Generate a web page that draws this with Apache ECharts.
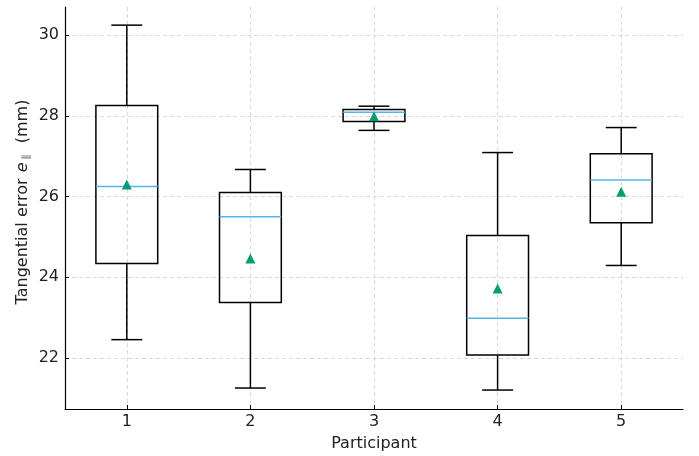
<!DOCTYPE html>
<html><head><meta charset="utf-8">
<script src="https://cdn.jsdelivr.net/npm/echarts@6/dist/echarts.min.js"></script>
<style>html,body{margin:0;padding:0;background:#fff}#c{width:699px;height:456px}</style>
</head><body><div id="c"></div>
<script>
const participants = [1, 2, 3, 4, 5];
const whiskerLow = [22.45, 21.25, 27.64, 21.20, 24.29];
const q1 = [24.34, 23.37, 27.86, 22.07, 25.35];
const median = [26.25, 25.50, 28.09, 22.98, 26.41];
const q3 = [28.26, 26.10, 28.16, 25.03, 27.06];
const whiskerHigh = [30.25, 26.67, 28.24, 27.09, 27.71];
const means = [26.30, 24.46, 27.99, 23.72, 26.12];
const yTicks = [22, 24, 26, 28, 30];

const boxData = participants.map((p, i) => [p, whiskerLow[i], q1[i], median[i], q3[i], whiskerHigh[i]]);
const meanData = participants.map((p, i) => [p, means[i]]);

const chart = echarts.init(document.getElementById('c'), null, {renderer: 'canvas'});
const font = '"DejaVu Sans", sans-serif';
function renderBox(params, api) {
  const x = api.value(0);
  const pLow = api.coord([x, api.value(1)]);
  const pQ1 = api.coord([x, api.value(2)]);
  const pMed = api.coord([x, api.value(3)]);
  const pQ3 = api.coord([x, api.value(4)]);
  const pHigh = api.coord([x, api.value(5)]);
  const w = api.size([0.5, 0])[0];
  const cw = w / 2;
  const cx = pMed[0];
  const ls = {stroke: '#000', lineWidth: 1.5, fill: null};
  return {
    type: 'group',
    children: [
      {type: 'line', shape: {x1: cx, y1: pQ1[1], x2: cx, y2: pLow[1]}, style: ls},
      {type: 'line', shape: {x1: cx, y1: pQ3[1], x2: cx, y2: pHigh[1]}, style: ls},
      {type: 'line', shape: {x1: cx - cw/2, y1: pLow[1], x2: cx + cw/2, y2: pLow[1]}, style: ls},
      {type: 'line', shape: {x1: cx - cw/2, y1: pHigh[1], x2: cx + cw/2, y2: pHigh[1]}, style: ls},
      {type: 'rect', shape: {x: cx - w/2, y: pQ3[1], width: w, height: pQ1[1] - pQ3[1]}, style: {stroke: '#000', lineWidth: 1.5, fill: 'rgba(0,0,0,0)'}},
      {type: 'line', shape: {x1: cx - w/2, y1: pMed[1], x2: cx + w/2, y2: pMed[1]}, style: {stroke: '#56B4E9', lineWidth: 1.5}}
    ]
  };
}
chart.setOption({
  animation: false,
  backgroundColor: '#fff',
  grid: {left: 65, right: 16, top: 7, bottom: 47, containLabel: false, outerBoundsMode: 'none'},
  xAxis: {
    type: 'value', min: 0.5, max: 5.5,
    name: 'Participant', nameLocation: 'middle', nameGap: 27, nameMoveOverlap: false,
    nameTextStyle: {fontFamily: font, fontSize: 16, color: '#222'},
    axisLine: {show: true, lineStyle: {color: '#000', width: 1.2}},
    axisTick: {show: true, inside: true, customValues: participants, length: 4, lineStyle: {color: '#000'}},
    axisLabel: {customValues: participants, fontFamily: font, fontSize: 16, color: '#222', margin: 5},
    splitLine: {show: true, lineStyle: {color: '#cfcfcf', type: [4, 3], width: 0.8}}
  },
  yAxis: {
    type: 'value', min: 20.73, max: 30.7,
    name: '{a|Tangential error }{e|e}{s|∥}{a|  (mm)}', nameLocation: 'middle', nameGap: 34, nameMoveOverlap: false,
    nameTextStyle: {
      fontFamily: font, fontSize: 16, color: '#222', padding: [0, 0, 0, 12],
      rich: {
        a: {fontFamily: font, fontSize: 16, color: '#222'},
        e: {fontFamily: font, fontSize: 16, color: '#222', fontStyle: 'italic', padding: [0, 1, 0, 1]},
        s: {fontFamily: font, fontSize: 10, color: '#888', fontWeight: 'bold', padding: [7, 1, 0, 2]}
      }
    },
    axisLine: {show: true, lineStyle: {color: '#000', width: 1.2}},
    axisTick: {show: true, inside: true, customValues: yTicks, length: 4, lineStyle: {color: '#000'}},
    axisLabel: {customValues: yTicks, fontFamily: font, fontSize: 16, color: '#222', margin: 6},
    splitLine: {show: true, lineStyle: {color: '#cfcfcf', type: [4, 3], width: 0.8}}
  },
  series: [
    {type: 'custom', renderItem: renderBox, data: boxData, encode: {x: 0, y: [1, 2, 3, 4, 5]}, z: 2},
    {type: 'scatter', data: meanData, symbol: 'triangle', symbolSize: 10, itemStyle: {color: '#009E73', opacity: 1}, z: 3}
  ]
});
</script></body></html>
